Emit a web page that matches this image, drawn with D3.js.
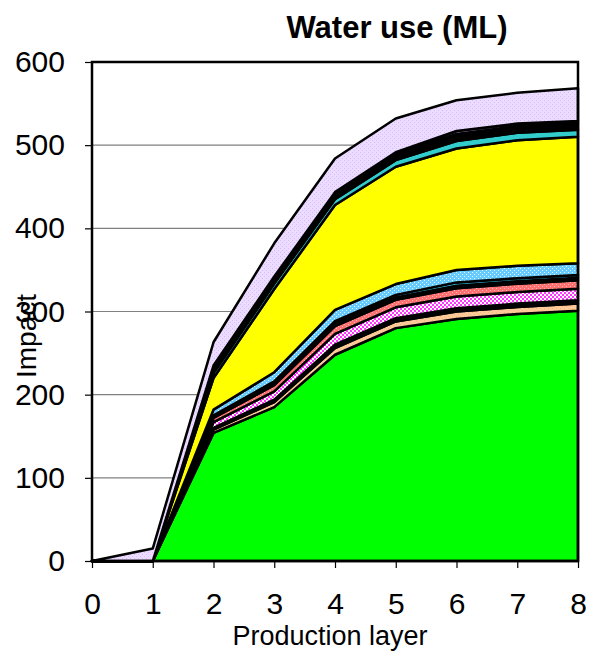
<!DOCTYPE html>
<html><head><meta charset="utf-8">
<script src="https://cdn.jsdelivr.net/npm/d3@7"></script>
<style>body{margin:0;background:#fff}svg{display:block}text{font-family:"Liberation Sans",Arial,sans-serif}</style>
</head><body>
<script>
const xValues = [0,1,2,3,4,5,6,7,8];
const yTicks = [0,100,200,300,400,500,600];
const seriesNames = ["green","tan","dark1","magenta","red","dark2","cyan","lightblue","yellow","teal","dark3","purple","lavender"];
const green     = [0,0,154,185,248,280,291,297,301];
const tan       = [0,0,4,6,8,8,9,8.5,8.5];
const dark1     = [0,0,2,3,4,4,4,4,4];
const magenta   = [0,0,7,10,13,13,14,14,14];
const red       = [0,0,5,7.5,9.5,9,10,10,10];
const dark2     = [0,0,1.5,2,3,3,3,3,3];
const cyan      = [0,0,1.5,2.5,3,3,4,3.5,3.5];
const lightblue = [0,0,7,11,13.5,13,15,15,14];
const yellow    = [0,0,38,100,126,141,146,151,152];
const teal      = [0,0,6,6.5,7,8,9,9,8.5];
const dark3     = [0,0,6,6,6,7,8.5,8,7.5];
const purple    = [0,0,3,2.5,2.5,2.5,3.5,3,3];
const lavender  = [0,15,28,40,40.5,40.5,37,37,39.5];
const seriesData = {green,tan,dark1,magenta,red,dark2,cyan,lightblue,yellow,teal,dark3,purple,lavender};

const W = 589, H = 651;
const L = 92, R = 578, T = 62, B = 561;
const FONT = '"Liberation Sans",Arial,sans-serif';
const svg = d3.select("body").append("svg").attr("width", W).attr("height", H);
const defs = svg.append("defs");

function pattern(id, bg, fg, cells, size) {
  const p = defs.append("pattern").attr("id", id).attr("patternUnits", "userSpaceOnUse")
    .attr("width", size).attr("height", size);
  p.append("rect").attr("width", size).attr("height", size).attr("fill", bg).attr("shape-rendering","crispEdges");
  cells.forEach(c => p.append("rect").attr("x", c[0]).attr("y", c[1]).attr("width", c[2]).attr("height", c[3])
    .attr("fill", fg).attr("shape-rendering","crispEdges"));
}
pattern("pLav", "#ecdcff", "#d8b8ff", [[0,0,1,1],[2,2,1,1]], 4);
pattern("pMag", "#ffffff", "#ff33ff", [[0,0,2,2],[2,2,2,2]], 4);
pattern("pRed", "#ff7070", "#ffb8b8", [[0,0,1,1],[2,2,1,1]], 4);
pattern("pBlue", "#66ccff", "#e8f8ff", [[0,0,1,1],[2,2,1,1]], 4);
pattern("pTan", "#ffcc99", "#f2b88a", [[0,0,1,1],[2,2,1,1]], 4);

const fills = {
  green: "#00ff00", tan: "url(#pTan)", dark1: "#000000", magenta: "url(#pMag)", red: "url(#pRed)",
  dark2: "#000000", cyan: "#33ccee", lightblue: "url(#pBlue)", yellow: "#ffff00", teal: "#33cccc",
  dark3: "#000000", purple: "#cc99ff", lavender: "url(#pLav)"
};

const x = d3.scaleLinear().domain([0, 8]).range([L, R]);
const y = d3.scaleLinear().domain([0, 600]).range([B, T]);

// gridlines
svg.append("g").selectAll("line").data(yTicks.filter(v => v > 0 && v < 600)).join("line")
  .attr("x1", L).attr("x2", R).attr("y1", d => y(d)).attr("y2", d => y(d))
  .attr("stroke", "#808080").attr("stroke-width", 1.2);

const rows = xValues.map((xv, i) => {
  const r = {x: xv};
  seriesNames.forEach(k => r[k] = seriesData[k][i]);
  return r;
});
const stack = d3.stack().keys(seriesNames)(rows);
const area = d3.area().x(d => x(d.data.x)).y0(d => y(d[0])).y1(d => y(d[1]));

svg.append("g").selectAll("path").data(stack).join("path")
  .attr("d", area)
  .attr("fill", d => fills[d.key])
  .attr("stroke", "#000").attr("stroke-width", 2.5).attr("stroke-linejoin", "round");

// frame
svg.append("rect").attr("x", L).attr("y", T).attr("width", R - L).attr("height", B - T)
  .attr("fill", "none").attr("stroke", "#000").attr("stroke-width", 2.5);

// y axis
const yAxis = d3.axisLeft(y).tickValues(yTicks).tickSize(7).tickPadding(20).tickFormat(d3.format("d"));
const gy = svg.append("g").attr("transform", `translate(${L},0)`).call(yAxis);
gy.select(".domain").remove();
gy.selectAll(".tick line").attr("stroke", "#000").attr("stroke-width", 1.2);
gy.selectAll(".tick text").attr("font-size", 30).attr("fill", "#000").style("font-family", FONT);

// x axis
const xAxis = d3.axisBottom(x).tickValues(xValues).tickSize(7).tickPadding(25).tickFormat(d3.format("d"));
const gx = svg.append("g").attr("transform", `translate(0,${B})`).call(xAxis);
gx.select(".domain").remove();
gx.selectAll(".tick line").attr("stroke", "#000").attr("stroke-width", 1.2);
gx.selectAll(".tick text").attr("font-size", 30).attr("fill", "#000").style("font-family", FONT);

// title & labels
svg.append("text").attr("x", 397).attr("y", 38).attr("text-anchor", "middle")
  .attr("font-size", 31).attr("font-weight", "bold").text("Water use (ML)");
svg.append("text").attr("x", 330).attr("y", 645).attr("text-anchor", "middle")
  .attr("font-size", 27).text("Production layer");
svg.append("text").attr("transform", "translate(36,336) rotate(-90)").attr("text-anchor", "middle")
  .attr("font-size", 28).text("Impact");
</script>
</body></html>
